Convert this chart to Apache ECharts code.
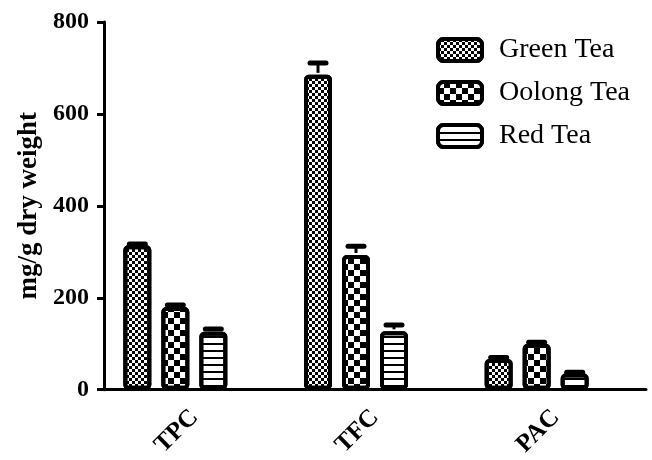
<!DOCTYPE html>
<html>
<head>
<meta charset="utf-8">
<script src="https://cdn.jsdelivr.net/npm/echarts@6/dist/echarts.min.js"></script>
<style>html,body{margin:0;padding:0;background:#fff}#c{width:652px;height:460px}</style>
</head>
<body>
<div id="c"></div>
<script>
var categories = ['TPC', 'TFC', 'PAC'];
var seriesNames = ['Green Tea', 'Oolong Tea', 'Red Tea'];
var greenTea = [314, 685, 67];
var oolongTea = [180, 293, 100];
var redTea = [126, 127, 35];
var greenErr = [3, 26, 3];
var oolongErr = [4, 19, 3];
var redErr = [6, 14, 3];
var yTicks = [0, 200, 400, 600, 800];

var FONT = "'Liberation Serif', 'Times New Roman', serif";
var BAR_W = 28, BORDER = 4, GAP_PX = 10, NSLOTS = 4;

var decals = [
  {symbol: 'rect', symbolSize: 1, dashArrayX: [[3, 3], [0, 3, 3, 0]], dashArrayY: [3, 0], color: '#000', rotation: 0},
  {symbol: 'rect', symbolSize: 1, dashArrayX: [[6, 6], [0, 6, 6, 0]], dashArrayY: [6, 0], color: '#000', rotation: 0},
  {symbol: 'rect', symbolSize: 1, dashArrayX: [1, 0], dashArrayY: [2, 5], color: '#000', rotation: 0}
];
var values = [greenTea, oolongTea, redTea];
var errs = [greenErr, oolongErr, redErr];

var series = [];
seriesNames.forEach(function (n, si) {
  series.push({
    name: n, type: 'bar', barWidth: BAR_W, barGap: (GAP_PX / BAR_W * 100) + '%',
    data: values[si],
    itemStyle: {color: '#fff', borderColor: '#000', borderWidth: BORDER, borderRadius: 3, decal: decals[si]},
    emphasis: {disabled: true}
  });
});
// empty slot so that the tick sits between 2nd and 3rd bar
series.push({name: '_pad', type: 'bar', barWidth: BAR_W, data: [null, null, null], itemStyle: {color: 'transparent'}});

seriesNames.forEach(function (n, si) {
  var offset = -((NSLOTS * BAR_W + (NSLOTS - 1) * GAP_PX) / 2) + BAR_W / 2 + si * (BAR_W + GAP_PX);
  series.push({
    type: 'custom', name: n + ' err', z: 5,
    data: values[si].map(function (v, i) { return [i, v, errs[si][i]]; }),
    encode: {x: 0, y: 1},
    renderItem: function (params, api) {
      var i = api.value(0), v = api.value(1), e = api.value(2);
      var p0 = api.coord([i, v]);
      var p1 = api.coord([i, v + e]);
      var x = p0[0] + offset;
      return {
        type: 'group',
        children: [
          {type: 'line', shape: {x1: x, y1: p0[1] - 2, x2: x, y2: p1[1]}, style: {stroke: '#000', lineWidth: 3}},
          {type: 'line', shape: {x1: x - 8, y1: p1[1], x2: x + 8, y2: p1[1]}, style: {stroke: '#000', lineWidth: 5, lineCap: 'round'}}
        ]
      };
    }
  });
});

var chart = echarts.init(document.getElementById('c'));
chart.setOption({
  animation: false,
  backgroundColor: '#fff',
  grid: {left: 104, right: 6, top: 22, bottom: 69, containLabel: false},
  legend: {
    data: seriesNames,
    orient: 'vertical', left: 431, top: 31,
    itemWidth: 44, itemHeight: 22, itemGap: 15,
    textStyle: {fontFamily: FONT, fontSize: 28, color: '#000', padding: [0, 0, 0, 12]},
    itemStyle: {borderColor: '#000', borderWidth: 4},
    selectedMode: false
  },
  xAxis: {
    type: 'category', data: categories,
    axisLine: {lineStyle: {color: '#000', width: 3}},
    axisTick: {alignWithLabel: true, length: 7, lineStyle: {color: '#000', width: 3}},
    axisLabel: {rotate: 45, margin: 24, fontFamily: FONT, fontWeight: 'bold', fontSize: 25, color: '#000'}
  },
  yAxis: {
    type: 'value', min: yTicks[0], max: yTicks[yTicks.length - 1], interval: yTicks[1] - yTicks[0],
    name: 'mg/g dry weight', nameLocation: 'middle', nameGap: 61, nameRotate: 90,
    nameTextStyle: {fontFamily: FONT, fontWeight: 'bold', fontSize: 27, color: '#000'},
    axisLine: {show: true, lineStyle: {color: '#000', width: 3}},
    axisTick: {show: true, length: 7, lineStyle: {color: '#000', width: 3}},
    axisLabel: {margin: 15, fontFamily: FONT, fontWeight: 'bold', fontSize: 24, color: '#000'},
    splitLine: {show: false}
  },
  series: series
});
</script>
</body>
</html>
